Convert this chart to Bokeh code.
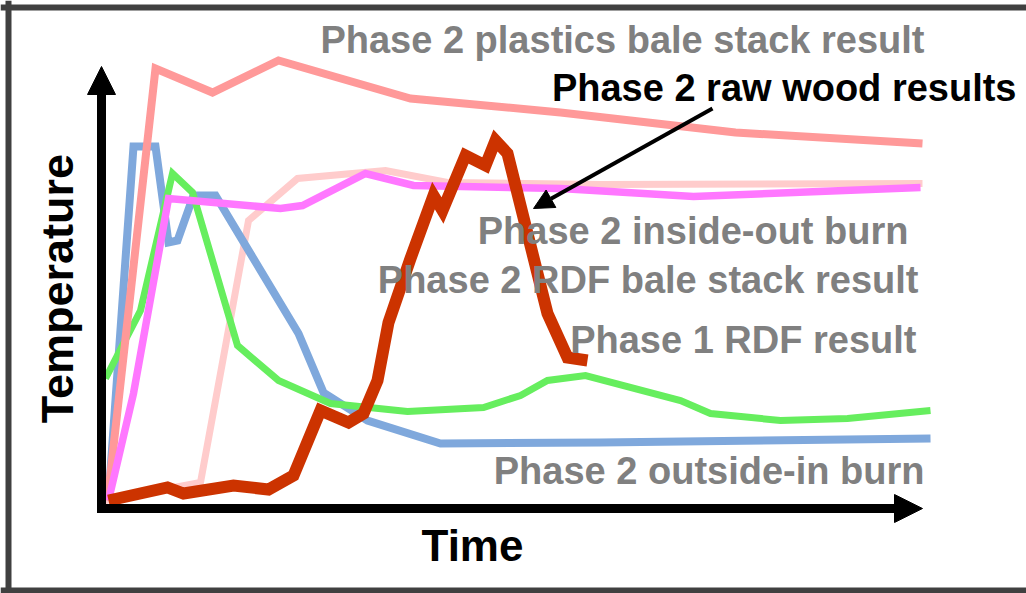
from bokeh.plotting import figure
from bokeh.models import Label, Arrow, NormalHead, Span, Range1d
from bokeh.embed import file_html
from bokeh.resources import INLINE

# ---- data (arbitrary time / temperature units) ----
t_plastics = [6, 54, 111, 177, 309, 459, 634, 821]
T_plastics = [8, 440, 416, 448, 410, 396, 376, 365]

t_inside = [4, 99, 147, 196, 284, 346, 499, 821]
T_inside = [8, 26, 288, 330, 338, 326, 324, 325]

t_rdf_bale = [7, 32, 67, 179, 201, 264, 312, 459, 592, 819]
T_rdf_bale = [8, 115, 310, 300, 303, 335, 323, 320, 312, 321]

t_outside = [7, 32, 54, 67, 76, 92, 114, 197, 222, 266, 339, 499, 829]
T_outside = [10, 362, 362, 266, 268, 313, 313, 175, 116, 88, 65, 66, 70]

t_phase1 = [4, 39, 71, 91, 136, 177, 229, 306, 382, 419, 446, 484, 579, 609, 679, 746, 829]
T_phase1 = [130, 198, 335, 316, 163, 128, 105, 97, 101, 113, 128, 133, 108, 95, 88, 90, 98]

t_wood = [7, 66, 82, 132, 167, 192, 219, 247, 262, 276, 287, 309, 332, 341, 364, 384, 394, 406, 446, 466, 486]
T_wood = [8, 21, 15, 23, 19, 33, 98, 86, 95, 128, 186, 250, 313, 298, 353, 343, 368, 355, 195, 151, 148]

label_texts = [
    "Phase 2 plastics bale stack result",
    "Phase 2 raw wood results",
    "Phase 2 inside-out burn",
    "Phase 2 RDF bale stack result",
    "Phase 1 RDF result",
    "Phase 2 outside-in burn",
]
label_t = [924, 1016, 908, 918, 916, 924]
label_T = [456, 408, 265, 216, 156, 25]
label_colors = ["#808080", "#000000", "#808080", "#808080", "#808080", "#808080"]

X0, X1 = -101, 925
Y0, Y1 = -85, 508
T_MAX_ARROW = 442
t_MAX_ARROW = 821

p = figure(width=1026, height=593, x_range=Range1d(X0, X1), y_range=Range1d(Y0, Y1),
           toolbar_location=None, output_backend="svg", min_border=0,
           x_axis_location=None, y_axis_location=None)
p.grid.visible = False
p.outline_line_color = None
p.background_fill_color = "white"
p.border_fill_color = "white"

# frame border (left, top, bottom)
bc = "#404040"
p.add_layout(Span(location=X0 + 8, dimension="height", line_color=bc, line_width=6))
p.add_layout(Span(location=Y1 - 7, dimension="width", line_color=bc, line_width=6))
p.add_layout(Span(location=Y0 + 3, dimension="width", line_color=bc, line_width=6))

common = dict(line_join="miter", line_cap="butt")
p.line(t_inside, T_inside, line_color="#FFCCCC", line_width=7, **common)
p.line(t_outside, T_outside, line_color="#7FA8DC", line_width=8, **common)
p.line(t_phase1, T_phase1, line_color="#66EE5E", line_width=7, **common)
p.line(t_plastics, T_plastics, line_color="#FF9999", line_width=8, **common)
p.line(t_rdf_bale, T_rdf_bale, line_color="#FF77FF", line_width=7.5, **common)
p.line(t_wood, T_wood, line_color="#CC3300", line_width=12, **common)

# axes drawn as arrows
p.add_layout(Arrow(end=NormalHead(size=28, fill_color="black", line_color="black", line_width=1),
                   x_start=-4.5, y_start=0, x_end=t_MAX_ARROW, y_end=0,
                   line_color="black", line_width=9))
p.add_layout(Arrow(end=NormalHead(size=28, fill_color="black", line_color="black", line_width=1),
                   x_start=0, y_start=-4.5, x_end=0, y_end=T_MAX_ARROW,
                   line_color="black", line_width=9))

# pointer arrow to raw wood curve
p.add_layout(Arrow(end=NormalHead(size=20, fill_color="black", line_color="black", line_width=1),
                   x_start=611, y_start=400, x_end=432, y_end=300,
                   line_color="black", line_width=4))

LBL_SIZE = 38
for txt, tx, ty, col in zip(label_texts, label_t, label_T, label_colors):
    p.add_layout(Label(x=tx - 101, y=ty + 0.32 * LBL_SIZE, text=txt,
                       text_align="right", text_baseline="alphabetic",
                       text_font="Liberation Sans", text_font_style="bold",
                       text_font_size=f"{LBL_SIZE}px", text_color=col))

p.add_layout(Label(x=371, y=-52 + 15, text="Time", text_align="center", text_baseline="alphabetic",
                   text_font="Liberation Sans", text_font_style="bold",
                   text_font_size="44px", text_color="black"))
p.add_layout(Label(x=-28 - 16, y=220, text="Temperature", angle=1.5707963, text_align="center",
                   text_baseline="alphabetic",
                   text_font="Liberation Sans", text_font_style="bold",
                   text_font_size="45px", text_color="black"))

open("out.html", "w").write(file_html(p, INLINE))
